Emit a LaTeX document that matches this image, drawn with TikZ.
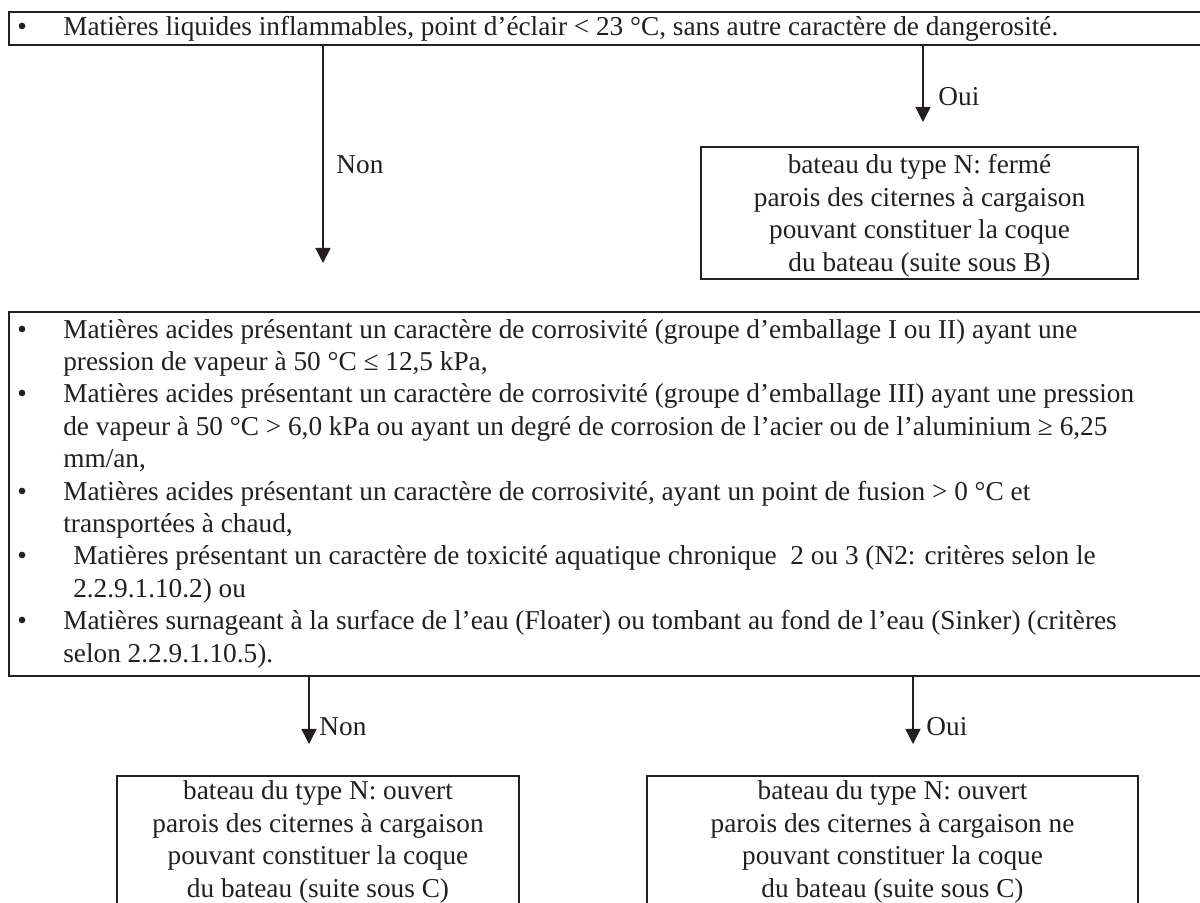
\documentclass[tikz,border=0pt]{standalone}
\usepackage{fontspec}
\setmainfont{Liberation Serif}
\usetikzlibrary{arrows.meta,fit}
\definecolor{ink}{RGB}{35,31,32}
\newcommand{\bul}{\makebox[20.4pt][l]{•}}
\newcommand{\ind}{\hspace*{20.4pt}}
\newcommand{\bodysize}{\fontsize{12.12pt}{14.4pt}\selectfont\baselineskip=14.4pt\relax}
\begin{document}
\begin{tikzpicture}[x=0.4444pt,y=-0.4444pt,
  font=\bodysize, text=ink,
  frame/.style={draw=ink,line width=1pt,inner sep=0pt},
  flow/.style={draw=ink,line width=0.6pt,-{Triangle[width=6.7pt,length=6.7pt]}},
  lbl/.style={anchor=base west,inner sep=0pt},
  result/.style={frame,anchor=north,inner sep=0pt}]
\useasboundingbox (0,0) rectangle (1200,902);
\clip (0,0) rectangle (1200,902);
\fill[white] (0,0) rectangle (1200,902);

% top question
\node[frame,fit={(9,12) (1215,45)}] (q1) {};
\node[lbl] (q1t) at (17,35) {\bul Matières liquides inflammables, point d’éclair < 23 °C, sans autre caractère de dangerosité.};

% result B
\node[result,minimum width=194.2pt,text height=12pt,text depth=46.6pt] (rB) at (919.5,145.7)
  {\parbox[t]{190pt}{\centering\bodysize bateau du type N: fermé\\parois des citernes à cargaison\\pouvant constituer la coque\\du bateau (suite sous B)}};

% second question
\node[frame,fit={(9,312) (1215,676)}] (q2) {};
\node[anchor=base west,inner sep=0pt] (q2t) at (17,338) {\parbox[t]{500pt}{\raggedright\bodysize
\bul Matières acides présentant un caractère de corrosivité (groupe d’emballage I ou II) ayant une\\
\ind pression de vapeur à 50 °C ≤ 12,5 kPa,\\
\bul Matières acides présentant un caractère de corrosivité (groupe d’emballage III) ayant une pression\\
\ind de vapeur à 50 °C > 6,0 kPa ou ayant un degré de corrosion de l’acier ou de l’aluminium ≥ 6,25\\
\ind mm/an,\\
\bul Matières acides présentant un caractère de corrosivité, ayant un point de fusion > 0 °C et\\
\ind transportées à chaud,\\
\bul \hspace*{4.4pt}Matières présentant un caractère de toxicité aquatique chronique~~2 ou 3 (N2: critères selon le\\
\ind \hspace*{4.4pt}2.2.9.1.10.2) ou\\
\bul Matières surnageant à la surface de l’eau (Floater) ou tombant au fond de l’eau (Sinker) (critères\\
\ind selon 2.2.9.1.10.5).}};

% results C
\node[result,minimum width=178.7pt,text height=10.6pt,text depth=52pt] (rC1) at (318,775)
  {\parbox[t]{175pt}{\centering\bodysize bateau du type N: ouvert\\parois des citernes à cargaison\\pouvant constituer la coque\\du bateau (suite sous C)}};
\node[result,minimum width=218.2pt,text height=10.6pt,text depth=52pt] (rC2) at (892.5,775)
  {\parbox[t]{214pt}{\centering\bodysize bateau du type N: ouvert\\parois des citernes à cargaison ne\\pouvant constituer la coque\\du bateau (suite sous C)}};

% connectors
\coordinate (e1) at (323,263);
\draw[flow] (q1.south -| e1) -- (e1);
\node[lbl] (l1) at (336,173) {Non};
\coordinate (e2) at (923,122);
\draw[flow] (q1.south -| e2) -- (e2);
\node[lbl] (l2) at (938,105) {Oui};
\coordinate (e3) at (309,744);
\draw[flow] (q2.south -| e3) -- (e3);
\node[lbl] (l3) at (319,735) {Non};
\coordinate (e4) at (913,744);
\draw[flow] (q2.south -| e4) -- (e4);
\node[lbl] (l4) at (926,735) {Oui};
\end{tikzpicture}
\end{document}
